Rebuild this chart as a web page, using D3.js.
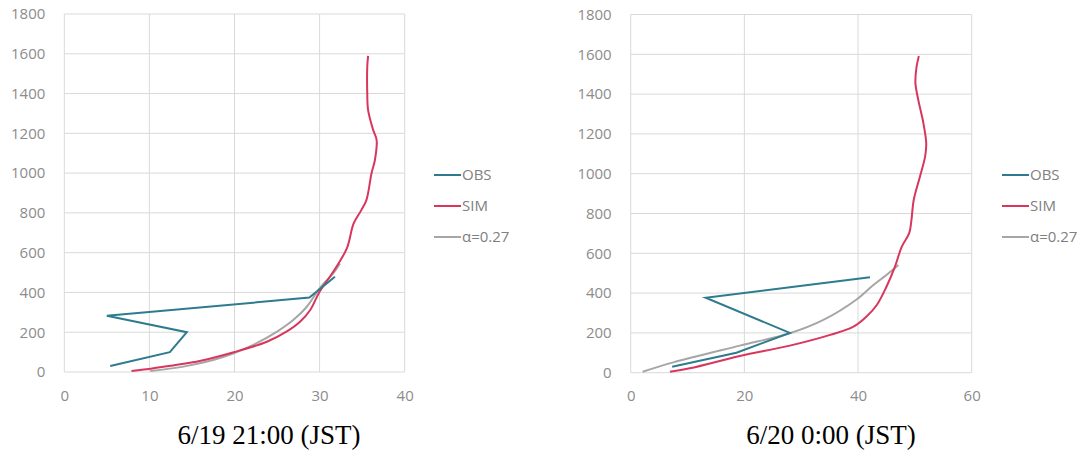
<!DOCTYPE html>
<html>
<head>
<meta charset="utf-8">
<script src="https://cdn.jsdelivr.net/npm/d3@7"></script>
<style>
  body { margin: 0; background: #fff; }
  svg { display: block; }
</style>
</head>
<body>
<div id="chart"></div>
<script>
// Wind profile data: [speed, height]
var obsLeft = [[5.4, 30], [12.4, 100], [14.4, 200], [5.0, 283], [28.8, 374], [31.8, 479]];
var simLeft = [[7.9, 5], [10.5, 19], [15.9, 55], [19.9, 99], [23.8, 152], [26.1, 203], [27.7, 253],
  [28.9, 312], [30.0, 404], [31.6, 504], [33.2, 622], [34.0, 747], [34.9, 814], [35.5, 864],
  [36.1, 999], [36.5, 1066], [36.7, 1166], [36.3, 1216], [35.7, 1317], [35.6, 1401], [35.6, 1535], [35.7, 1589]];
var alphaLeft = [[10.1, 5], [14.0, 27], [17.5, 60], [19.9, 94], [22.2, 136], [25.0, 203], [26.9, 261],
  [28.5, 328], [30.0, 421], [31.6, 496], [32.4, 546]];

var obsRight = [[7.3, 30], [18.6, 100], [28.0, 200], [13.2, 377], [42.1, 480]];
var simRight = [[6.9, 5], [10.4, 22], [19.2, 84], [28.0, 136], [35.1, 190], [39.2, 231], [41.5, 282],
  [43.3, 340], [45.0, 432], [46.5, 533], [47.7, 634], [49.0, 701], [49.4, 768], [49.8, 868],
  [50.9, 986], [51.8, 1086], [52.0, 1153], [51.5, 1254], [50.6, 1371], [50.1, 1455], [50.3, 1538], [50.7, 1592]];
var alphaRight = [[2.1, 5], [7.5, 52], [19.2, 136], [28.0, 198], [33.9, 265], [39.8, 369], [42.7, 441],
  [45.0, 491], [47.1, 541]];

var yTicks = [0, 200, 400, 600, 800, 1000, 1200, 1400, 1600, 1800];
var xTicksLeft = [0, 10, 20, 30, 40];
var xTicksRight = [0, 20, 40, 60];
var seriesNames = ["OBS", "SIM", "α=0.27"];
var seriesColors = ["#2e7b8f", "#d8365c", "#a6a6a6"];

var svg = d3.select("#chart")
  .append("svg")
  .attr("width", 1089)
  .attr("height", 455);

function drawPanel(opt) {
  var x = d3.scaleLinear().domain([0, opt.xMax]).range([opt.left, opt.right]);
  var y = d3.scaleLinear().domain([0, 1800]).range([opt.bottom, opt.top]);
  var g = svg.append("g");

  // gridlines
  g.selectAll(".hgrid")
    .data(yTicks)
    .enter()
    .append("line")
    .attr("x1", opt.left)
    .attr("x2", opt.right)
    .attr("y1", d => y(d))
    .attr("y2", d => y(d))
    .attr("stroke", "#d9d9d9")
    .attr("stroke-width", 1);

  g.selectAll(".vgrid")
    .data(opt.xTicks)
    .enter()
    .append("line")
    .attr("x1", d => x(d))
    .attr("x2", d => x(d))
    .attr("y1", opt.top)
    .attr("y2", opt.bottom)
    .attr("stroke", "#d9d9d9")
    .attr("stroke-width", 1);

  // axes (labels only)
  var leftAxis = d3.axisLeft(y).tickValues(yTicks).tickFormat(d3.format("d")).tickSize(0).tickPadding(19);
  var bottomAxis = d3.axisBottom(x).tickValues(opt.xTicks).tickFormat(d3.format("d")).tickSize(0).tickPadding(18);

  var ya = g.append("g").attr("transform", `translate(${opt.left}, 0)`).call(leftAxis);
  var xa = g.append("g").attr("transform", `translate(0, ${opt.bottom})`).call(bottomAxis);
  [ya, xa].forEach(function(a) {
    a.select(".domain").remove();
    a.selectAll("text")
      .attr("fill", "#8c8c8c")
      .attr("font-family", "Open Sans, sans-serif")
      .attr("font-size", "15px");
  });

  var line = d3.line()
    .x(d => x(d[0]))
    .y(d => y(d[1]));
  var smooth = d3.line()
    .x(d => x(d[0]))
    .y(d => y(d[1]))
    .curve(d3.curveCatmullRom);

  g.append("path").datum(opt.alpha)
    .attr("d", smooth).attr("fill", "none")
    .attr("stroke", seriesColors[2]).attr("stroke-width", 2);
  g.append("path").datum(opt.sim)
    .attr("d", smooth).attr("fill", "none")
    .attr("stroke", seriesColors[1]).attr("stroke-width", 2);
  g.append("path").datum(opt.obs)
    .attr("d", line).attr("fill", "none")
    .attr("stroke", seriesColors[0]).attr("stroke-width", 2);

  // legend
  var leg = g.selectAll(".leg")
    .data(seriesNames)
    .enter()
    .append("g")
    .attr("transform", (d, i) => `translate(${opt.legX}, ${175 + i * 31})`);
  leg.append("line")
    .attr("x1", 0).attr("x2", 27)
    .attr("stroke", (d, i) => seriesColors[i])
    .attr("stroke-width", 2);
  leg.append("text")
    .attr("x", 28)
    .attr("dy", "0.35em")
    .attr("fill", "#808080")
    .attr("font-family", "Open Sans, sans-serif")
    .attr("font-size", "15px")
    .text(d => d);

  // caption
  svg.append("text")
    .attr("x", opt.titleX)
    .attr("y", 444)
    .attr("text-anchor", "middle")
    .attr("font-family", "Liberation Serif, Times New Roman, serif")
    .attr("font-size", "27px")
    .attr("fill", "#000")
    .text(opt.title);
}

drawPanel({
  left: 64.3, right: 404.7, top: 14, bottom: 372,
  xMax: 40, xTicks: xTicksLeft,
  obs: obsLeft, sim: simLeft, alpha: alphaLeft,
  legX: 434, titleX: 269, title: "6/19 21:00 (JST)"
});

drawPanel({
  left: 630.7, right: 971.7, top: 14.5, bottom: 372.7,
  xMax: 60, xTicks: xTicksRight,
  obs: obsRight, sim: simRight, alpha: alphaRight,
  legX: 1002, titleX: 831, title: "6/20 0:00 (JST)"
});
</script>
</body>
</html>
